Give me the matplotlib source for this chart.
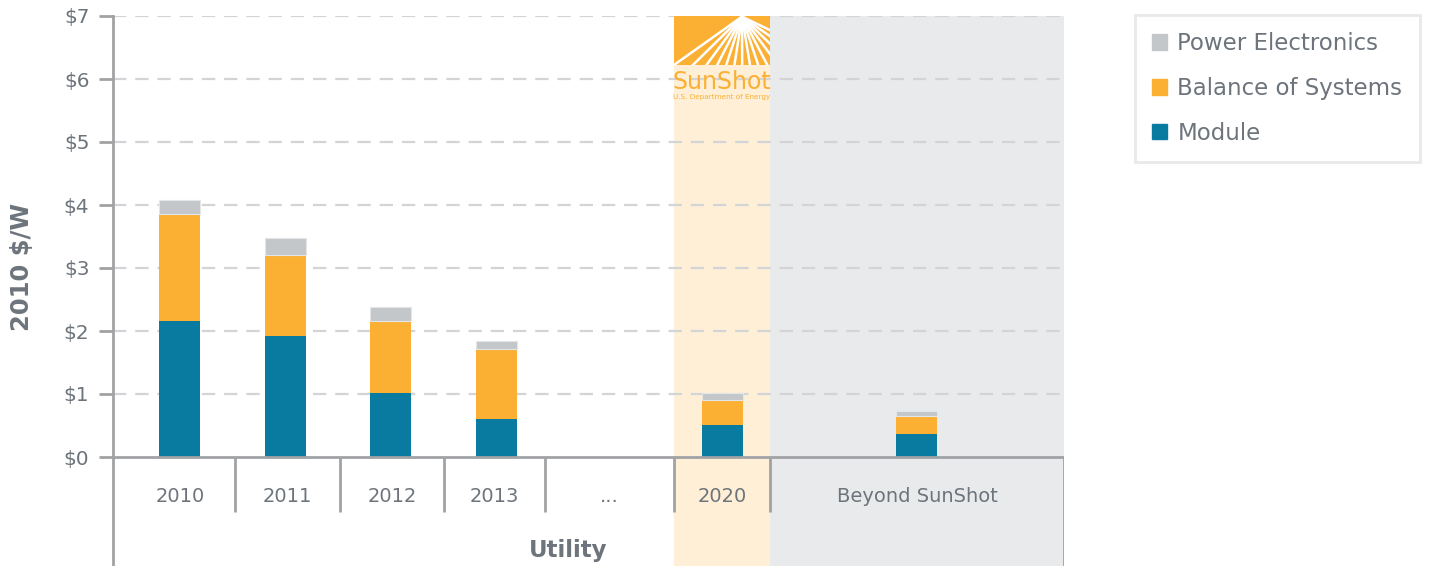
import matplotlib.pyplot as plt
from matplotlib.patches import Patch, Rectangle
import numpy as np

# data (2010 $/W)
cells = ['2010', '2011', '2012', '2013', '...', '2020', 'Beyond SunShot']
module = [2.16, 1.92, 1.02, 0.60, np.nan, 0.51, 0.37]
bos = [1.70, 1.29, 1.14, 1.11, np.nan, 0.39, 0.28]
power = [0.22, 0.27, 0.22, 0.13, np.nan, 0.12, 0.08]
group_label = 'Utility'
y_ticks = [0, 1, 2, 3, 4, 5, 6, 7]

# layout (axis units, roughly pixels from the left spine)
edges = [0, 122, 227, 331, 432, 561, 657, 951]
bar_x = [67, 173, 278, 384, 496, 610, 804]
bar_w = 41

c_mod = '#0a7ba0'
c_bos = '#fbb034'
c_pe = '#c4c7ca'
c_txt = '#6d747b'
c_axis = '#a0a2a5'

plt.rcParams['font.family'] = ['DejaVu Sans']

fig = plt.figure(figsize=(14.48, 5.66), dpi=100)
ax = fig.add_axes([113 / 1448, 0, (1064 - 113) / 1448, 550 / 566])
ymin = 7 - 550 / 63
ax.set_xlim(0, 951)
ax.set_ylim(ymin, 7)

# shaded periods
ax.axvspan(edges[5], edges[6], color='#feefd6', zorder=0, lw=0)
ax.axvspan(edges[6], edges[7], color='#e9eaec', zorder=0, lw=0)

# grid
for t in y_ticks[1:]:
    ax.plot([0, 951], [t, t], color='#d3d4d6', lw=1.6, ls=(0, (6, 4)), zorder=1)

# bars
xs = np.array(bar_x)
m = np.array(module)
b = np.array(bos)
p = np.array(power)
ok = ~np.isnan(m)
ax.bar(xs[ok], m[ok], width=bar_w, color=c_mod, zorder=3)
ax.bar(xs[ok], b[ok], bottom=m[ok], width=bar_w, color=c_bos, zorder=3)
ax.bar(xs[ok], p[ok], bottom=m[ok] + b[ok], width=bar_w, color=c_pe,
       edgecolor='#e4e5e6', lw=0.8, zorder=3)

# axes lines
ax.plot([0, 951], [0, 0], color=c_axis, lw=2, zorder=4, solid_capstyle='butt')
div_bottom = -55 / 63
ax.vlines(edges[1:-1], div_bottom, 0, color=c_axis, lw=2, zorder=4)
ax.vlines([951], ymin, 0, color=c_axis, lw=2, zorder=4)
for s in ['top', 'right', 'bottom']:
    ax.spines[s].set_visible(False)
ax.spines['left'].set_color(c_axis)
ax.spines['left'].set_linewidth(2)
ax.spines['left'].set_zorder(4)

ax.set_xticks([])
ax.set_yticks(y_ticks)
ax.set_yticklabels(['$%d' % t for t in y_ticks])
ax.tick_params(axis='y', length=10, width=2, color=c_axis, labelcolor=c_txt,
               labelsize=14.5, pad=7)

centers = [(edges[i] + edges[i + 1]) / 2 for i in range(len(cells))]
centers[0] = bar_x[0]
for c, lab in zip(centers, cells):
    ax.text(c, -40 / 63, lab, ha='center', va='center', fontsize=14, color=c_txt)
ax.text(455, -93 / 63, group_label, ha='center', va='center', fontsize=16.5,
        fontweight='bold', color=c_txt)

fig.text(22 / 1448, 1 - 267 / 566, '2010 $/W', rotation=90, ha='center', va='center',
         fontsize=17.5, fontweight='bold', color=c_txt)

# SunShot logo at top of the 2020 band
lx0, lx1 = edges[5], edges[6]
ly0, ly1 = (457 - 65) / 63, 7
logo = Rectangle((lx0, ly0), lx1 - lx0, ly1 - ly0, color=c_bos, lw=0, zorder=2)
ax.add_patch(logo)
cx, cy = 629, 6.99
ang0 = np.arctan2(ly0 - cy, (lx0 - cx) / 63)
for a in np.linspace(ang0, -0.45, 14):
    ex = cx + np.cos(a) * 200 * 63
    ey = cy + np.sin(a) * 200
    ln, = ax.plot([cx, ex], [cy, ey], color='white', lw=1.8, zorder=2.5)
    ln.set_clip_path(logo)
ax.text((lx0 + lx1) / 2, (457 - 82) / 63, 'SunShot', ha='center', va='center',
        fontsize=17, color=c_bos, zorder=3)
ax.text((lx0 + lx1) / 2, (457 - 97) / 63, 'U.S. Department of Energy', ha='center',
        va='center', fontsize=5.2, color=c_bos, zorder=3)

# legend
handles = [Patch(color=c_pe, label='Power Electronics'),
           Patch(color=c_bos, label='Balance of Systems'),
           Patch(color=c_mod, label='Module')]
leg = fig.legend(handles=handles, loc='upper left',
                 bbox_to_anchor=(1135 / 1448, 1 - 15 / 566), fontsize=16.5,
                 frameon=True, fancybox=False, handlelength=0.65, handleheight=0.65,
                 handletextpad=0.45, labelspacing=0.95, borderpad=0.75,
                 borderaxespad=0)
leg.get_frame().set_edgecolor('#e3e4e6')
leg.get_frame().set_linewidth(2)
for t in leg.get_texts():
    t.set_color(c_txt)

fig.savefig('out.png', dpi=100)
